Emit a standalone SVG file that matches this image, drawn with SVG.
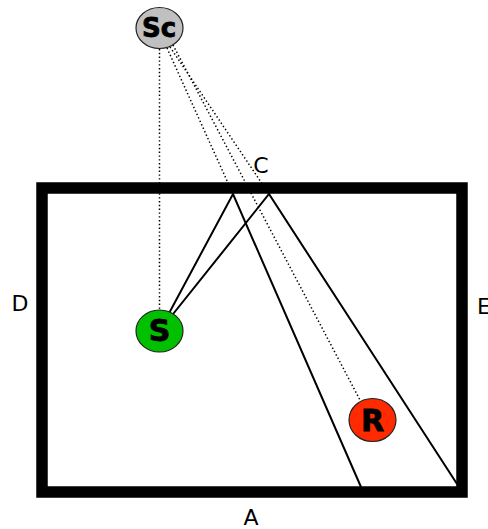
<svg xmlns="http://www.w3.org/2000/svg" width="488" height="529" viewBox="0 0 488 529">
<style>
.lbl{font-family:"DejaVu Sans",sans-serif;font-size:22px;fill:#000}
.nl{font-family:"DejaVu Sans",sans-serif;font-weight:bold;fill:#000;stroke:#000;stroke-width:0.8;text-anchor:middle}
.node{stroke:#222;stroke-width:1.2}
.ray{stroke:#000;stroke-width:2;fill:none}
.dot{stroke:#000;stroke-width:1.5;stroke-dasharray:1.4,2.4;fill:none}
</style>
<rect width="488" height="529" fill="#fff"/>
<g id="room">
<rect x="42" y="188" width="420" height="304" fill="none" stroke="#000" stroke-width="11.5"/>
</g>
<g id="connectors">
<line class="dot" x1="159.5" y1="49" x2="159.5" y2="311"/>
<line class="dot" x1="167" y1="48" x2="233" y2="194"/>
<line class="dot" x1="170" y1="47" x2="269" y2="194"/>
<line class="dot" x1="173" y1="45" x2="360" y2="400"/>
<polyline class="ray" points="159.5,331 233,194 361,487"/>
<polyline class="ray" points="159.5,331 269,194 459,487"/>
</g>
<g id="Sc"><ellipse class="node" cx="159.5" cy="28" rx="23.5" ry="20.5" fill="#c0c0c0"/><text class="nl" x="159" y="37" font-size="26">Sc</text></g>
<g id="S"><ellipse class="node" cx="159.5" cy="331" rx="23.5" ry="21" fill="#00c000"/><text class="nl" x="159.5" y="341" font-size="30">S</text></g>
<g id="R"><ellipse class="node" cx="372.5" cy="420" rx="23.5" ry="21.5" fill="#ff2a00"/><text class="nl" x="372.5" y="431" font-size="30">R</text></g>
<g id="labels">
<text class="lbl" x="261" y="173" text-anchor="middle">C</text>
<text class="lbl" x="20" y="311" text-anchor="middle">D</text>
<text class="lbl" x="477" y="314">E</text>
<text class="lbl" x="251" y="525" text-anchor="middle">A</text>
</g>
</svg>
